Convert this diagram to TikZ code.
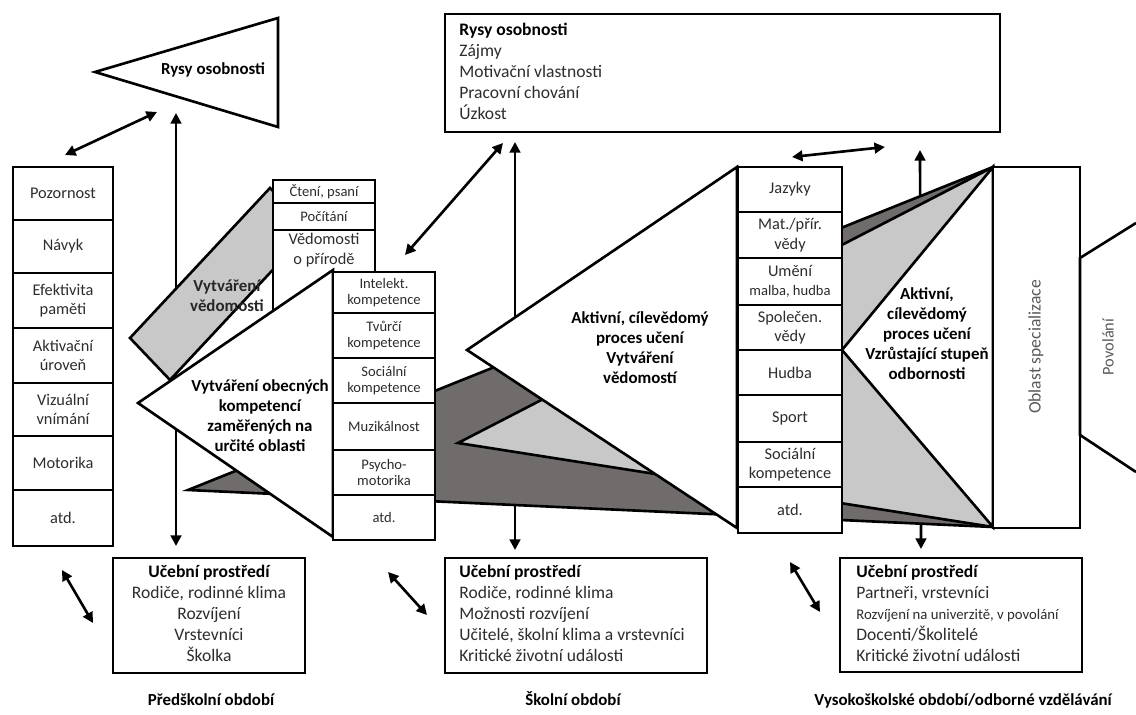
\documentclass[tikz,border=0pt]{standalone}
\usepackage{fontspec}
\setmainfont{Carlito}
\usetikzlibrary{arrows.meta}

\definecolor{conedark}{RGB}{112,108,108}
\definecolor{conelight}{RGB}{200,200,200}
\definecolor{ink}{RGB}{45,45,45}

\tikzset{
  box/.style={draw, line width=1.5pt, fill=white},
  cone/.style={draw, line width=1.5pt, line join=miter},
  item/.style={font=\fontsize{9.3}{11}\selectfont, text=ink, align=center, inner sep=0pt},
  smallitem/.style={font=\fontsize{8.3}{9.5}\selectfont, text=ink, align=center, inner sep=0pt},
  head/.style={font=\bfseries\fontsize{9.6}{11.4}\selectfont, align=center, inner sep=0pt},
  envtext/.style={font=\fontsize{10}{11.9}\selectfont, text=ink, inner sep=0pt},
  link/.style={<->, line width=1.5pt},
}

\begin{document}
\begin{tikzpicture}[x=0.02cm, y=-0.02cm, >={Triangle[length=6pt,width=6pt]}]
  \useasboundingbox (0,0) rectangle (1136,715);

  % arrows first, the cones hide their middle parts
  \coordinate (a1) at (65,155);   \coordinate (a2) at (157,112);
  \coordinate (b1) at (176,113);  \coordinate (b2) at (176,546);
  \coordinate (c1) at (405,255);  \coordinate (c2) at (503,143);
  \coordinate (d1) at (515,142);  \coordinate (d2) at (515,550);
  \coordinate (e1) at (792,157);  \coordinate (e2) at (885,147);
  \coordinate (f1) at (920,150);  \coordinate (f2) at (921,549);
  \coordinate (g1) at (62,570);   \coordinate (g2) at (93,623);
  \coordinate (h1) at (388,572);  \coordinate (h2) at (427,615);
  \coordinate (k1) at (790,562);  \coordinate (k2) at (820,612);
  \foreach \p/\q in {a1/a2, b1/b2, c1/c2, d1/d2, e1/e2, f1/f2, g1/g2, h1/h2, k1/k2}
    \draw [link] (\p) -- (\q);

  % personality triangle
  \filldraw [cone, fill=white] (95,72) -- (278,18) -- (278,127) -- cycle;
  \node [head] (traits) at (213,70) {Rysy osobnosti};

  % preschool column
  \foreach \ya/\yb/\txt [count=\i] in {167/220/Pozornost, 220/273/Návyk,
      273/328/{Efektivita\\paměti}, 328/383/{Aktivační\\úroveň},
      383/436/{Vizuální\\vnímání}, 436/490/Motorika, 490/546/atd.}
  {
    \draw [box] (13,\ya) rectangle (113,\yb);
    \node [item] (pre-\i) at (63,{(\ya+\yb)/2}) {\txt};
  }

  % cones of the later periods
  \filldraw [cone, fill=conedark] (188,490) -- (993,167) -- (993,527) -- cycle;
  \filldraw [cone, fill=conelight] (458,443) -- (993,167) -- (993,527) -- cycle;
  \filldraw [cone, fill=white] (467,350) -- (737,167) -- (737,528) -- cycle;
  \node [head] (learn) at (640,348)
    {Aktivní, cílevědomý\\proces učení\\Vytváření\\vědomostí};

  % school column
  \foreach \ya/\yb/\txt [count=\i] in {167/212/Jazyky, 212/258/{Mat./přír.\\vědy},
      258/305/{Umění\\{\fontsize{8.3}{9.5}\selectfont malba, hudba}},
      305/350/{Společen.\\vědy}, 350/395/Hudba, 395/442/Sport,
      487/533/atd.}
  {
    \draw [box] (738,\ya) rectangle (842,\yb);
    \node [item] (sch-\i) at (790,{(\ya+\yb)/2}) {\txt};
  }
  \draw [box] (738,442) rectangle (842,487);
  \node [item] (sch-soc) at (790,464.5) {Sociální\\kompetence};

  \filldraw [cone, fill=white] (842,350) -- (993,167) -- (993,527) -- cycle;
  \node [head] (expert) at (927,334)
    {Aktivní,\\cílevědomý\\proces učení\\Vzrůstající stupeň\\odbornosti};

  % specialisation and profession
  \draw [box] (993,167) rectangle (1080,528);
  \node [item, rotate=90, text=black!65, font=\fontsize{10}{12}\selectfont] (spec) at (1036,347) {Oblast specializace};
  \filldraw [cone, fill=white] (1136,223) -- (1080,258) -- (1080,435) -- (1136,472);
  \node [item, rotate=90, text=black!65] (job) at (1108,347) {Povolání};

  % knowledge wedge of the preschool period
  \filldraw [cone, fill=conelight] (270,188) -- (130,338) -- (170,380) -- (310,230) -- cycle;
  \draw [box] (273,180) rectangle (375,203);
  \draw [box] (273,203) rectangle (375,230);
  \draw [box] (273,230) rectangle (375,335);
  \node [smallitem] (read) at (324,191.5) {Čtení, psaní};
  \node [smallitem] (count) at (324,216.5) {Počítání};
  \node [item] (nature) at (324,250) {Vědomosti\\o přírodě};

  \filldraw [cone, fill=white] (138,403) -- (333,270) -- (333,537) -- cycle;
  \node [head, text=black!85] (know) at (227,296) {Vytváření\\vědomosti};
  \node [head] (general) at (260,416)
    {Vytváření obecných\\kompetencí\\zaměřených na\\určité oblasti};

  \foreach \ya/\yb/\txt [count=\i] in {272/313/{Intelekt.\\kompetence},
      313/358/{Tvůrčí\\kompetence}, 358/403/{Sociální\\kompetence},
      403/450/Muzikálnost, 450/495/{Psycho-\\motorika}, 495/540/atd.}
  {
    \draw [box] (333,\ya) rectangle (435,\yb);
    \node [smallitem] (gen-\i) at (384,{(\ya+\yb)/2}) {\txt};
  }

  % personality traits of the later periods
  \draw [box] (445,14) rectangle (1000,132);
  \node [envtext, anchor=north west, align=left] (traitlist) at (459,23)
    {\textbf{\color{black}Rysy osobnosti}\\Zájmy\\Motivační vlastnosti\\Pracovní chování\\Úzkost};

  % learning environments
  \draw [box] (113,558) rectangle (305,673);
  \node [envtext, anchor=north, align=center] (env-1) at (209,565)
    {\textbf{\color{black}Učební prostředí}\\Rodiče, rodinné klima\\Rozvíjení\\Vrstevníci\\Školka};
  \draw [box] (445,558) rectangle (707,673);
  \node [envtext, anchor=north west, align=left] (env-2) at (459,565)
    {\textbf{\color{black}Učební prostředí}\\Rodiče, rodinné klima\\Možnosti rozvíjení\\Učitelé, školní klima a vrstevníci\\Kritické životní události};
  \draw [box] (840,558) rectangle (1082,672);
  \node [envtext, anchor=north west, align=left] (env-3) at (856,565)
    {\textbf{\color{black}Učební prostředí}\\Partneři, vrstevníci\\{\fontsize{8.4}{11.9}\selectfont Rozvíjení na univerzitě, v povolání}\\Docenti/Školitelé\\Kritické životní události};

  % periods
  \node [head, anchor=base] (per-1) at (211,705) {Předškolní období};
  \node [head, anchor=base] (per-2) at (573,705) {Školní období};
  \node [head, anchor=base] (per-3) at (963,705) {Vysokoškolské období/odborné vzdělávání};
\end{tikzpicture}
\end{document}
